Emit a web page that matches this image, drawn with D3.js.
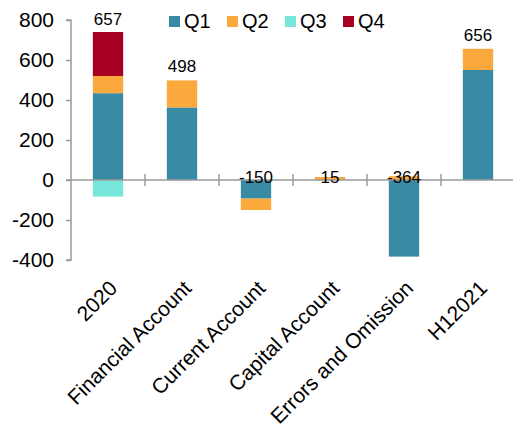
<!DOCTYPE html>
<html>
<head>
<meta charset="utf-8">
<script src="https://cdn.jsdelivr.net/npm/d3@7"></script>
<style>
  html, body { margin: 0; padding: 0; background: #fff; }
  text { font-family: "Liberation Sans", Arial, sans-serif; fill: #000; }
</style>
</head>
<body>
<svg id="chart" width="513" height="428"></svg>
<script>
const categories = ["2020", "Financial Account", "Current Account", "Capital Account", "Errors and Omission", "H12021"];
const seriesNames = ["Q1", "Q2", "Q3", "Q4"];
const q1 = [434, 363, -93, 0, -383, 550];
const q2 = [86, 135, -57, 15, 19, 106];
const q3 = [-83, 0, 0, 0, 0, 0];
const q4 = [220, 0, 0, 0, 0, 0];
const totals = [657, 498, -150, 15, -364, 656];
const yTicks = [800, 600, 400, 200, 0, -200, -400];
const colors = ["#388BA3", "#FBA93C", "#76E6DA", "#A60023"];

const rows = categories.map((c, i) => ({ cat: c, Q1: q1[i], Q2: q2[i], Q3: q3[i], Q4: q4[i], total: totals[i] }));

const svg = d3.select("#chart");
const mLeft = 71, mRight = 515, mTop = 20, mBottom = 260;

const x = d3.scaleBand().domain(categories).range([mLeft, mRight]).paddingInner(0.59).paddingOuter(0.295);
const y = d3.scaleLinear().domain([-400, 800]).range([mBottom, mTop]);

const stack = d3.stack().keys(seriesNames).offset(d3.stackOffsetDiverging);
const layers = stack(rows);

const axisColor = "#9a9a9a";
const fmt = d => String(d);

// bars
svg.append("g").selectAll("g").data(layers).join("g")
  .attr("fill", (d, i) => colors[i])
  .selectAll("rect").data(d => d).join("rect")
  .attr("x", d => x(d.data.cat))
  .attr("width", x.bandwidth())
  .attr("y", d => y(Math.max(d[0], d[1])))
  .attr("height", d => Math.abs(y(d[0]) - y(d[1])));

// y axis
const yAxis = d3.axisLeft(y).tickValues(yTicks).tickSize(5).tickPadding(12).tickFormat(fmt);
const gy = svg.append("g").attr("transform", `translate(${mLeft},0)`).call(yAxis);
gy.select(".domain").attr("stroke", axisColor).attr("stroke-width", 1.5).attr("d", `M-5,${mTop}H0V${mBottom}H-5`);
gy.selectAll(".tick line").attr("stroke", axisColor).attr("stroke-width", 1.5);
gy.selectAll(".tick text").style("font-size", "21px").style("font-family", "Liberation Sans, Arial, sans-serif").attr("fill", "#000");

// zero line with boundary ticks
const zeroY = y(0);
svg.append("line").attr("x1", mLeft - 5).attr("x2", 513).attr("y1", zeroY).attr("y2", zeroY)
  .attr("stroke", axisColor).attr("stroke-width", 1.5);
const step = x.step();
const boundaries = categories.map((c, i) => mLeft + step * (i + 1)).filter(v => v < 513);
svg.append("g").selectAll("line").data(boundaries).join("line")
  .attr("x1", d => d).attr("x2", d => d)
  .attr("y1", zeroY - 6).attr("y2", zeroY + 6)
  .attr("stroke", axisColor).attr("stroke-width", 1.5);

// category labels
svg.append("g").selectAll("text").data(categories).join("text")
  .attr("transform", d => `translate(${x(d) + x.bandwidth() / 2},279) rotate(-45)`)
  .attr("text-anchor", "end")
  .attr("dy", "0.71em")
  .style("font-size", "21px")
  .text(d => d);

// total labels
svg.append("g").selectAll("text").data(rows).join("text")
  .attr("x", d => x(d.cat) + x.bandwidth() / 2)
  .attr("y", d => {
    const posTop = d3.sum(seriesNames, k => Math.max(d[k], 0));
    if (d.total <= 50) return y(0) + 3;
    return Math.max(y(posTop) - 8, 25);
  })
  .attr("text-anchor", "middle")
  .style("font-size", "17px")
  .text(d => fmt(d.total));

// legend
const legX = [169, 227, 285, 343];
const lg = svg.append("g").selectAll("g").data(seriesNames).join("g")
  .attr("transform", (d, i) => `translate(${legX[i]},16)`);
lg.append("rect").attr("width", 11).attr("height", 11).attr("fill", (d, i) => colors[i]);
lg.append("text").attr("x", 15).attr("y", 12).style("font-size", "20px").text(d => d);
</script>
</body>
</html>
